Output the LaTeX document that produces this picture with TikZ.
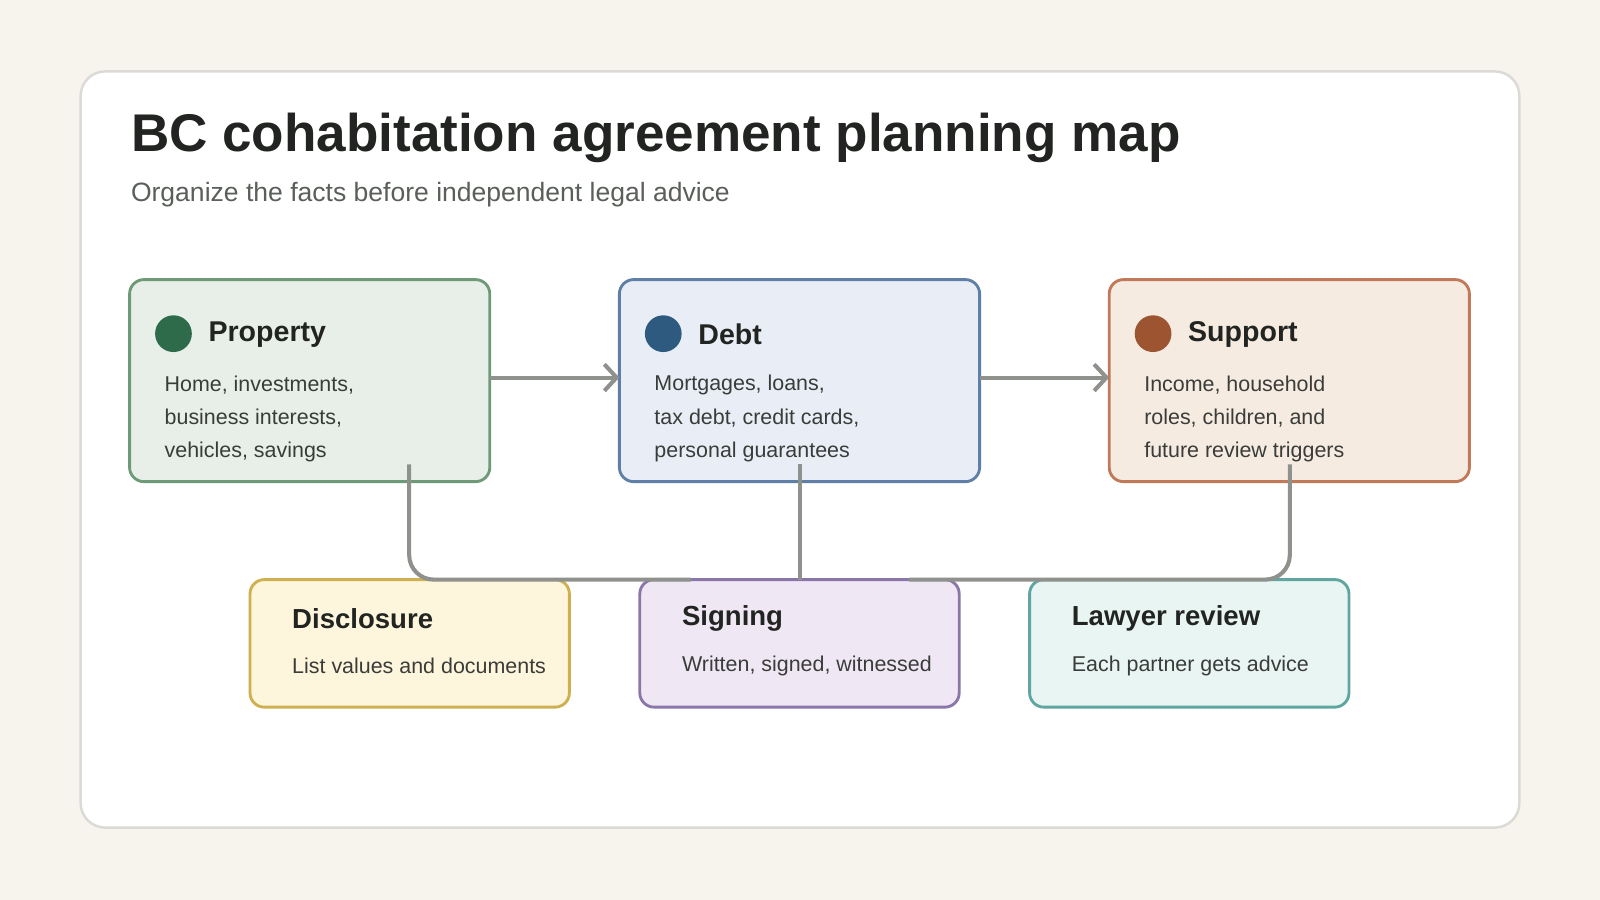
\documentclass[tikz,border=0pt]{standalone}
\usepackage{fontspec}
\setmainfont{Liberation Sans}
\usetikzlibrary{arrows.meta}
\definecolor{bg}{HTML}{F7F4EE}
\definecolor{cardline}{HTML}{DCDAD5}
\definecolor{conn}{HTML}{8F918D}
\definecolor{txt}{HTML}{222422}
\definecolor{body}{HTML}{3A3C3A}
\definecolor{sub}{HTML}{5A5F5A}
\definecolor{pline}{HTML}{6F9A78}
\definecolor{pfill}{HTML}{E8EFE8}
\definecolor{dline}{HTML}{5F7FA6}
\definecolor{dfill}{HTML}{E9EEF6}
\definecolor{sline}{HTML}{C07A5A}
\definecolor{sfill}{HTML}{F5EBE1}
\definecolor{pdot}{HTML}{2E6B4A}
\definecolor{ddot}{HTML}{2E5A80}
\definecolor{sdot}{HTML}{9C5530}
\definecolor{yline}{HTML}{CFB050}
\definecolor{yfill}{HTML}{FDF6DC}
\definecolor{vline}{HTML}{8A76A8}
\definecolor{vfill}{HTML}{EFE8F4}
\definecolor{tline}{HTML}{5FA6A0}
\definecolor{tfill}{HTML}{E8F5F2}
\begin{document}
\begin{tikzpicture}[x=0.5pt,y=-0.5pt,
  box/.style={draw=#1,line width=1.4pt,rounded corners=7pt},
  head/.style={anchor=west,font=\fontsize{14}{16}\selectfont\bfseries,text=txt,inner sep=0},
  bodyt/.style={anchor=west,font=\fontsize{10.5}{12}\selectfont,text=body,inner sep=0},
  con/.style={draw=conn,line width=2pt},
  arr/.style={con,-{Straight Barb[length=6pt,width=13pt,line width=2pt]}}]
\useasboundingbox (0,0) rectangle (1568,882);
\fill[bg] (0,0) rectangle (1568,882);
\draw[fill=white,draw=cardline,line width=1.2pt,rounded corners=12pt] (79,70) rectangle (1489,811);
\node[anchor=base west,inner sep=0,font=\fontsize{26}{30}\selectfont\bfseries,text=txt] (title) at (128,148) {BC cohabitation agreement planning map};
\node[anchor=base west,inner sep=0,font=\fontsize{13}{15}\selectfont,text=sub] (subt) at (128,197) {Organize the facts before independent legal advice};
% top boxes
\path[box=pline,fill=pfill] (127,274) rectangle (480,472);
\coordinate (pL) at (127,370); \coordinate (pR) at (480,370);
\path[box=dline,fill=dfill] (607,274) rectangle (960,472);
\coordinate (dL) at (607,370); \coordinate (dR) at (960,370);
\path[box=sline,fill=sfill] (1087,274) rectangle (1440,472);
\coordinate (sL) at (1087,370);
\fill[pdot] (170,327) circle (18);
\fill[ddot] (650,327) circle (18);
\fill[sdot] (1130,327) circle (18);
\node[head] (h1) at (204,328) {Property};
\node[head] (h2) at (684,328) {Debt};
\node[head] (h3) at (1164,328) {Support};
\node[bodyt] at (161,377) {Home, investments,};
\node[bodyt] at (161,410) {business interests,};
\node[bodyt] at (161,443) {vehicles, savings};
\node[bodyt] at (641,377) {Mortgages, loans,};
\node[bodyt] at (641,410) {tax debt, credit cards,};
\node[bodyt] at (641,443) {personal guarantees};
\node[bodyt] at (1121,377) {Income, household};
\node[bodyt] at (1121,410) {roles, children, and};
\node[bodyt] at (1121,443) {future review triggers};
% bottom boxes
\path[box=yline,fill=yfill] (245,568) rectangle (558,693);
\path[box=vline,fill=vfill] (627,568) rectangle (940,693);
\path[box=tline,fill=tfill] (1009,568) rectangle (1322,693);
\node[head,font=\fontsize{13.5}{16}\selectfont\bfseries] at (286,606) {Disclosure};
\node[head,font=\fontsize{13.5}{16}\selectfont\bfseries] at (668,606) {Signing};
\node[head,font=\fontsize{13.5}{16}\selectfont\bfseries] at (1050,606) {Lawyer review};
\node[bodyt] at (286,653) {List values and documents};
\node[bodyt] at (668,653) {Written, signed, witnessed};
\node[bodyt] at (1050,653) {Each partner gets advice};
% connectors
\draw[arr] (pR) -- (dL);
\draw[arr] (dR) -- (sL);
\coordinate (a1) at (401,455); \coordinate (a2) at (677,568);
\coordinate (b1) at (784,455); \coordinate (b2) at (784,568);
\coordinate (c1) at (1264,455); \coordinate (c2) at (891,568);
\draw[con,rounded corners=12pt] (a1) -- (401,568) -- (a2);
\draw[con] (b1) -- (b2);
\draw[con,rounded corners=12pt] (c1) -- (1264,568) -- (c2);
\end{tikzpicture}
\end{document}
